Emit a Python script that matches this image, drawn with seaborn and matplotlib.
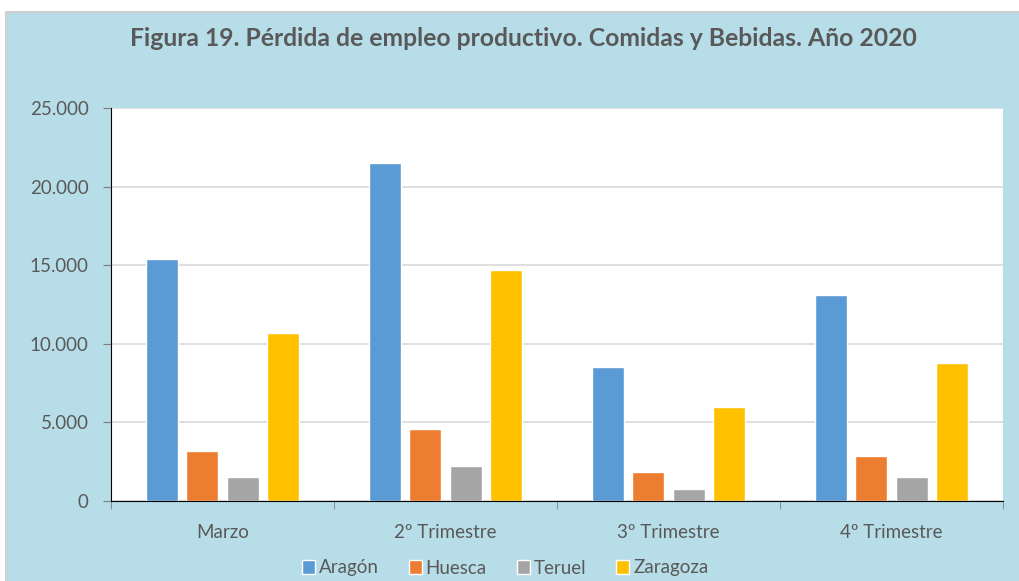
import matplotlib
matplotlib.use("Agg")
import matplotlib.pyplot as plt
import matplotlib.patches as mpatches
from matplotlib.ticker import FuncFormatter
import pandas as pd
import seaborn as sns

# datos
periodos = ["Marzo", "2º Trimestre", "3º Trimestre", "4º Trimestre"]
aragon = [15400, 21500, 8550, 13100]
huesca = [3200, 4550, 1850, 2850]
teruel = [1500, 2200, 760, 1500]
zaragoza = [10700, 14700, 5950, 8750]
zonas = ["Aragón", "Huesca", "Teruel", "Zaragoza"]

rows = []
for zona, vals in zip(zonas, [aragon, huesca, teruel, zaragoza]):
    for p, v in zip(periodos, vals):
        rows.append([p, zona, v])
df = pd.DataFrame(rows, columns=["periodo", "zona", "empleo"])

sns.set_style("white")
plt.rcParams["font.family"] = ["Lato", "DejaVu Sans"]

txt = "#595959"
bg = "#B7DDE8"
pal = {"Aragón": "#5B9BD5", "Huesca": "#ED7D31", "Teruel": "#A5A5A5", "Zaragoza": "#FFC000"}

fig = plt.figure(figsize=(10.19, 5.81), dpi=100, facecolor="white")
fig.patches.append(mpatches.Rectangle((6 / 1019, -0.01), 1.02, 1 - 12 / 581 + 0.01,
                                      transform=fig.transFigure, facecolor=bg,
                                      edgecolor="#D0D0D0", linewidth=1.5, zorder=-5))

ax = fig.add_axes([111 / 1019, 80 / 581, 892 / 1019, 393 / 581])
ax.set_facecolor("white")

sns.barplot(data=df, x="periodo", y="empleo", hue="zona", palette=pal,
            saturation=1, width=0.72, gap=0.2, ax=ax, legend=True)

ax.set_ylim(0, 25000)
ax.set_yticks(range(0, 25001, 5000))
ax.yaxis.set_major_formatter(FuncFormatter(lambda v, _: f"{int(v):,}".replace(",", ".")))
ax.grid(axis="y", color="#D9D9D9", linewidth=1.2)
ax.set_axisbelow(True)
for s in ["top", "right"]:
    ax.spines[s].set_visible(False)
ax.spines["left"].set_color("black")
ax.spines["bottom"].set_color("black")
ax.tick_params(axis="y", left=True, length=6, color="#7F7F7F", labelsize=13.5, labelcolor=txt, pad=10)
ax.tick_params(axis="x", bottom=False, labelsize=13.5, labelcolor=txt, pad=13)
# marcas entre categorias
ax.set_xticks([-0.5, 0.5, 1.5, 2.5, 3.5], minor=True)
ax.tick_params(axis="x", which="minor", bottom=True, length=6, color="#7F7F7F")
ax.set_xlim(-0.5, 3.5)
ax.set_xlabel("")
ax.set_ylabel("")

h, l = ax.get_legend_handles_labels()
ax.legend_.remove()
fig.legend(h, l, loc="center", bbox_to_anchor=(505 / 1019, 1 - 568 / 581), ncol=4,
           frameon=False, fontsize=13.5, labelcolor=txt, handlelength=0.7,
           handleheight=0.7, handletextpad=0.2, columnspacing=1.6)

fig.text(523 / 1019, 1 - 38 / 581, "Figura 19. Pérdida de empleo productivo. Comidas y Bebidas. Año 2020",
         ha="center", va="center", fontsize=17.8, fontweight="bold", color=txt)

fig.savefig("out.png", dpi=100, facecolor=fig.get_facecolor())
